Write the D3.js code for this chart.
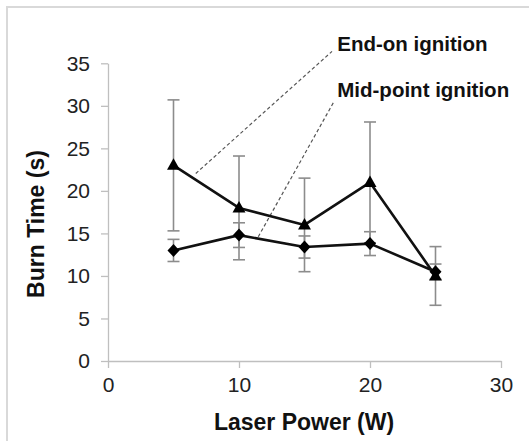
<!DOCTYPE html>
<html>
<head>
<meta charset="utf-8">
<script src="https://cdn.jsdelivr.net/npm/d3@7"></script>
<style>
  html, body { margin: 0; padding: 0; background: #fff; }
  svg { display: block; }
  text { font-family: Arial, "Liberation Sans", sans-serif; }
</style>
</head>
<body>
<script>
// ---- data ----
const laserPower = [5, 10, 15, 20, 25];
const endOnTime = [23, 18, 16, 21, 10];
const endOnErr = [7.7, 6.1, 5.5, 7.1, 3.45];
const midPointTime = [13, 14.8, 13.4, 13.8, 10.5];
const midPointErr = [1.3, 1.45, 1.3, 1.4, 0.9];
const xTicks = [0, 10, 20, 30];
const yTicks = [0, 5, 10, 15, 20, 25, 30, 35];
const xTitle = "Laser Power (W)";
const yTitle = "Burn Time (s)";
const labelNames = ["End-on ignition", "Mid-point ignition"];
// leader lines: [from point on series, to label] in data units
const leaderFrom = [[6.7, 22.05], [11.47, 14.6]];
const leaderTo = [[17.1, 36.4], [17.25, 30.5]];
const labelPos = [[17.5, 36.5], [17.5, 31.0]];

const W = 529, H = 441;
const svg = d3.select("body").append("svg").attr("width", W).attr("height", H);

// outer border
svg.append("rect").attr("x", 7).attr("y", 7).attr("width", W).attr("height", H)
  .attr("fill", "none").attr("stroke", "#d9d9d9").attr("stroke-width", 2);

const x = d3.scaleLinear().domain([0, 30]).range([108, 501]);
const y = d3.scaleLinear().domain([0, 35]).range([361, 63.3]);

// axes
const xAxis = svg.append("g").attr("transform", `translate(0,${y(0)})`)
  .call(d3.axisBottom(x).tickValues(xTicks).tickFormat(d3.format("d"))
    .tickSizeInner(7).tickSizeOuter(0).tickPadding(9));
const yAxis = svg.append("g").attr("transform", `translate(${x(0)},0)`)
  .call(d3.axisLeft(y).tickValues(yTicks).tickFormat(d3.format("d"))
    .tickSizeInner(7).tickSizeOuter(0).tickPadding(11));
[xAxis, yAxis].forEach(g => {
  g.select(".domain").attr("stroke", "#bfbfbf").attr("stroke-width", 1.3);
  g.selectAll(".tick line").attr("stroke", "#bfbfbf").attr("stroke-width", 1.3);
  g.selectAll(".tick text").attr("fill", "#222").style("font-size", "21px")
    .style("font-family", "Arial, 'Liberation Sans', sans-serif");
});

// axis titles
svg.append("text").attr("x", (x(0) + x(30)) / 2 - 0.5).attr("y", 429.5)
  .attr("text-anchor", "middle").style("font-size", "23px").style("font-weight", "bold")
  .attr("fill", "#111").text(xTitle);
svg.append("text").attr("transform", `translate(44,${224}) rotate(-90)`)
  .attr("text-anchor", "middle").style("font-size", "23px").style("font-weight", "bold")
  .attr("fill", "#111").text(yTitle);

// leader lines
leaderFrom.forEach((p, i) => {
  svg.append("line")
    .attr("x1", x(p[0])).attr("y1", y(p[1]))
    .attr("x2", x(leaderTo[i][0])).attr("y2", y(leaderTo[i][1]))
    .attr("stroke", "#555").attr("stroke-width", 1.2).attr("stroke-dasharray", "3.5,2.5");
});
labelNames.forEach((t, i) => {
  svg.append("text").attr("x", x(labelPos[i][0])).attr("y", y(labelPos[i][1]))
    .style("font-size", "20.5px").style("font-weight", "bold").attr("fill", "#111").text(t);
});

// error bars
function errorBars(vals, errs) {
  const g = svg.append("g").attr("stroke", "#8c8c8c").attr("stroke-width", 1.6);
  laserPower.forEach((p, i) => {
    const cx = x(p), top = y(vals[i] + errs[i]), bot = y(vals[i] - errs[i]);
    g.append("line").attr("x1", cx).attr("x2", cx).attr("y1", top).attr("y2", bot);
    g.append("line").attr("x1", cx - 6).attr("x2", cx + 6).attr("y1", top).attr("y2", top);
    g.append("line").attr("x1", cx - 6).attr("x2", cx + 6).attr("y1", bot).attr("y2", bot);
  });
}
errorBars(endOnTime, endOnErr);
errorBars(midPointTime, midPointErr);

// lines
const line = d3.line().x(d => x(d[0])).y(d => y(d[1]));
[endOnTime, midPointTime].forEach(vals => {
  svg.append("path").datum(laserPower.map((p, i) => [p, vals[i]]))
    .attr("d", line).attr("fill", "none").attr("stroke", "#111").attr("stroke-width", 2.6)
    .attr("stroke-linejoin", "round");
});

// markers
svg.append("g").selectAll("path").data(laserPower.map((p, i) => [p, midPointTime[i]]))
  .join("path").attr("transform", d => `translate(${x(d[0])},${y(d[1])})`)
  .attr("d", "M0,-6.5L6,0L0,6.5L-6,0Z").attr("fill", "#000");
svg.append("g").selectAll("path").data(laserPower.map((p, i) => [p, endOnTime[i]]))
  .join("path").attr("transform", d => `translate(${x(d[0])},${y(d[1])})`)
  .attr("d", "M0,-7L6.5,4.5L-6.5,4.5Z").attr("fill", "#000");
</script>
</body>
</html>
